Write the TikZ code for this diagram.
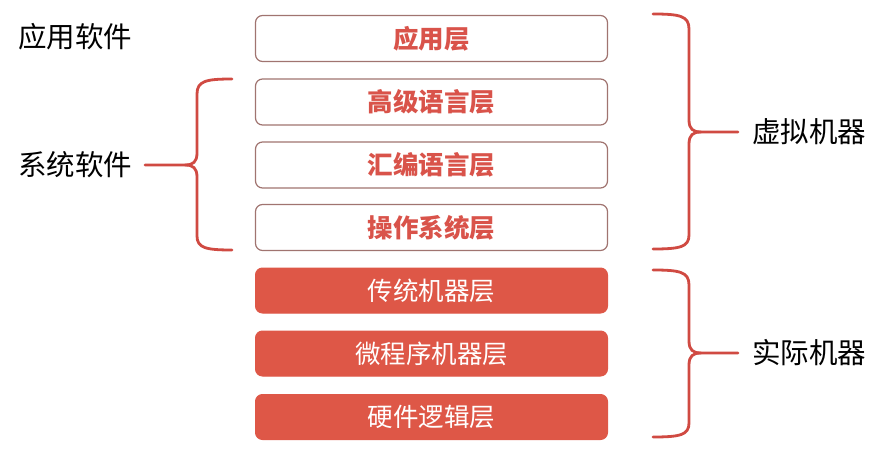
\documentclass[tikz,border=0pt]{standalone}
\usepackage{fontspec}
\newfontfamily\cjk{Noto Sans CJK SC}
\definecolor{lred}{HTML}{D9534A}
\definecolor{fillred}{HTML}{DE5747}
\definecolor{bordergray}{HTML}{A07470}
\definecolor{bracered}{HTML}{D04A42}
\tikzset{
  outbox/.style={draw=bordergray, line width=1.2pt, rounded corners=7pt, fill=white,
    minimum width=352pt, minimum height=46pt, inner sep=0pt,
    text=lred, font=\cjk\bfseries\fontsize{25.5}{30}\selectfont},
  fillbox/.style={draw=fillred, line width=1pt, rounded corners=7pt, fill=fillred,
    minimum width=352pt, minimum height=45pt, inner sep=0pt,
    text=white, font=\cjk\fontsize{25.5}{30}\selectfont},
  sidelabel/.style={anchor=west, inner sep=0pt, text=black, font=\cjk\fontsize{28.5}{33}\selectfont},
  bracepath/.style={draw=bracered, line width=2.8pt, line cap=round}
}
\begin{document}
\begin{tikzpicture}[x=1pt,y=-1pt]
\useasboundingbox (0,0) rectangle (889,457);
% boxes
\node[outbox] (app) at (431.5,38.5) {应用层};
\node[outbox] (hll) at (431.5,102) {高级语言层};
\node[outbox] (asm) at (431.5,165) {汇编语言层};
\node[outbox] (os)  at (431.5,227.5) {操作系统层};
\node[fillbox] (tm) at (431.5,290.5) {传统机器层};
\node[fillbox] (mp) at (431.5,353.5) {微程序机器层};
\node[fillbox] (hw) at (431.5,417) {硬件逻辑层};
% labels
\node[sidelabel] (appsw) at (18,37) {应用软件};
\node[sidelabel] (syssw) at (18,165) {系统软件};
\node[sidelabel] (vm) at (752,132) {虚拟机器};
\node[sidelabel] (rm) at (752,353) {实际机器};
% left brace
\coordinate (lt) at (232,79);
\coordinate (lb) at (232,250);
\coordinate (ltip) at (145,165);
\draw[bracepath] (lt) .. controls (206,79) and (197,81) .. (197,94)
  -- (197,153) .. controls (197,162) and (193,165) .. (185,165) -- (ltip);
\draw[bracepath] (lb) .. controls (206,250) and (197,248) .. (197,236)
  -- (197,177) .. controls (197,168) and (193,165) .. (185,165);
% right brace 1
\coordinate (r1t) at (653,14);
\coordinate (r1b) at (653,249);
\coordinate (r1tip) at (738,132);
\draw[bracepath] (r1t) .. controls (680,14) and (689,16) .. (689,29)
  -- (689,120) .. controls (689,129) and (693,132) .. (701,132) -- (r1tip);
\draw[bracepath] (r1b) .. controls (680,249) and (689,247) .. (689,235)
  -- (689,144) .. controls (689,135) and (693,132) .. (701,132);
% right brace 2
\coordinate (r2t) at (653,270);
\coordinate (r2b) at (653,437);
\coordinate (r2tip) at (738,353);
\draw[bracepath] (r2t) .. controls (680,270) and (689,272) .. (689,285)
  -- (689,341) .. controls (689,350) and (693,353) .. (701,353) -- (r2tip);
\draw[bracepath] (r2b) .. controls (680,437) and (689,435) .. (689,423)
  -- (689,365) .. controls (689,356) and (693,353) .. (701,353);
\end{tikzpicture}
\end{document}
